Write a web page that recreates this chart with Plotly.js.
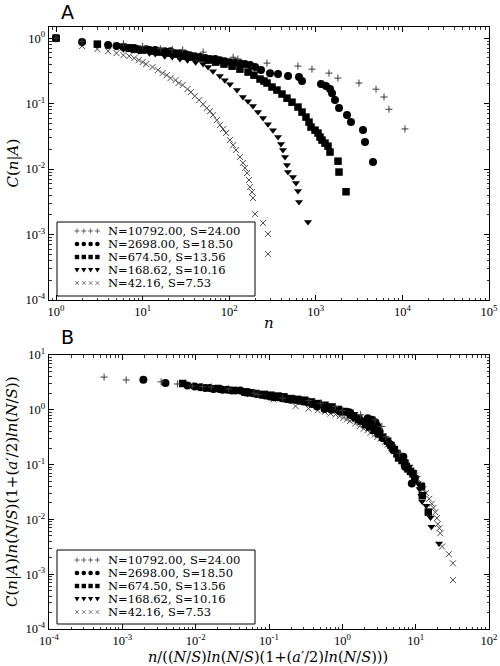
<!DOCTYPE html>
<html><head><meta charset="utf-8">
<script src="https://cdn.plot.ly/plotly-3.0.1.min.js"></script>
<style>html,body{margin:0;padding:0;background:#fff}</style>
</head><body><div id="chart" style="width:500px;height:666px"></div>
<script>
// ---- legend parameters (average N and S of each sample) ----
const N_vals = [10792.00, 2698.00, 674.50, 168.62, 42.16];
const S_vals = [24.00, 18.50, 13.56, 10.16, 7.53];
// a'
const aPrime = -0.116;

// ---- panel A: C(n|A) versus n ----
const n_plus = [1, 2, 6, 10, 16, 22, 29, 50, 111, 126, 273, 622, 903, 1420, 1800, 3150, 4960, 6130, 7000, 10700];
const c_plus = [1, 0.89, 0.82, 0.75, 0.69, 0.67, 0.66, 0.61, 0.51, 0.48, 0.415, 0.374, 0.336, 0.292, 0.245, 0.206, 0.166, 0.126, 0.082, 0.041];

const n_circ = [1, 2, 4, 5, 6, 7, 8, 9, 11, 12, 14, 16, 18, 21, 24, 27, 31, 35, 40, 46, 53, 60, 69, 78, 89, 102, 117, 133, 152, 174, 199, 233, 296, 366, 478, 640, 693, 1148, 1312, 1460, 1540, 1667, 1854, 2292, 2547, 3506, 3700, 4575];
const c_circ = [1, 0.869, 0.782, 0.755, 0.729, 0.704, 0.704, 0.679, 0.679, 0.656, 0.656, 0.633, 0.633, 0.633, 0.590, 0.590, 0.570, 0.550, 0.531, 0.513, 0.495, 0.478, 0.478, 0.461, 0.445, 0.430, 0.430, 0.415, 0.401, 0.387, 0.361, 0.325, 0.292, 0.282, 0.263, 0.254, 0.221, 0.1985, 0.185, 0.1665, 0.1445, 0.113, 0.0853, 0.0667, 0.0522, 0.0394, 0.0258, 0.0128];

const n_sq = [1, 3, 7, 8, 10, 13, 16, 20, 24, 30, 37, 46, 57, 70, 87, 108, 133, 165, 193, 227, 252, 273, 312, 356, 407, 465, 531, 623, 693, 770, 835, 880, 979, 1060, 1118, 1179, 1277, 1383, 1459, 1805, 1853, 2233];
const c_sq = [1, 0.810, 0.704, 0.679, 0.656, 0.633, 0.612, 0.590, 0.570, 0.531, 0.513, 0.495, 0.461, 0.430, 0.401, 0.373, 0.336, 0.303, 0.272, 0.237, 0.221, 0.206, 0.179, 0.161, 0.140, 0.121, 0.105, 0.0885, 0.0742, 0.0622, 0.0521, 0.0438, 0.0393, 0.0355, 0.0308, 0.0277, 0.0249, 0.0224, 0.0182, 0.0132, 0.0090, 0.0045];

const n_tri = [1, 2, 3, 4, 5, 6, 8, 9, 12, 14, 18, 22, 27, 33, 41, 50, 57, 65, 78, 89, 102, 123, 144, 165, 188, 215, 246, 280, 320, 366, 396, 418, 441, 465, 477, 545, 591, 623, 640, 813];
const c_tri = [1, 0.839, 0.782, 0.755, 0.729, 0.679, 0.656, 0.633, 0.590, 0.570, 0.531, 0.513, 0.478, 0.461, 0.430, 0.401, 0.361, 0.313, 0.263, 0.228, 0.198, 0.161, 0.126, 0.109, 0.0916, 0.0741, 0.0600, 0.0485, 0.0393, 0.0308, 0.0241, 0.0195, 0.0153, 0.0115, 0.0090, 0.00755, 0.00611, 0.00461, 0.00313, 0.00155];

const n_x = [1, 2, 3, 4, 5, 6, 7, 8, 9, 10, 11, 13, 15, 17, 19, 21, 24, 26, 29, 33, 36, 40, 45, 50, 55, 60, 65, 72, 78, 85, 92, 102, 111, 120, 133, 144, 152, 161, 169, 174, 183, 188, 199, 246, 280, 280];
const c_x = [1, 0.755, 0.679, 0.633, 0.590, 0.550, 0.531, 0.495, 0.461, 0.430, 0.401, 0.361, 0.325, 0.292, 0.272, 0.245, 0.228, 0.206, 0.1916, 0.1665, 0.1498, 0.130, 0.113, 0.098, 0.0853, 0.0768, 0.0667, 0.0559, 0.0470, 0.0408, 0.0355, 0.0277, 0.0232, 0.0195, 0.0153, 0.0124, 0.0104, 0.0087, 0.0068, 0.0053, 0.00445, 0.00361, 0.00206, 0.0015, 0.00102, 0.000504];

// ---- tick labels ----
const xTickValsA = [1, 10, 100, 1000, 10000, 100000];
const xTickTextA = ['10<sup>0</sup>', '10<sup>1</sup>', '10<sup>2</sup>', '10<sup>3</sup>', '10<sup>4</sup>', '10<sup>5</sup>'];
const yTickValsA = [0.0001, 0.001, 0.01, 0.1, 1];
const yTickTextA = ['10<sup>-4</sup>', '10<sup>-3</sup>', '10<sup>-2</sup>', '10<sup>-1</sup>', '10<sup>0</sup>'];
const xTickValsB = [0.0001, 0.001, 0.01, 0.1, 1, 10, 100];
const xTickTextB = ['10<sup>-4</sup>', '10<sup>-3</sup>', '10<sup>-2</sup>', '10<sup>-1</sup>', '10<sup>0</sup>', '10<sup>1</sup>', '10<sup>2</sup>'];
const yTickValsB = [0.0001, 0.001, 0.01, 0.1, 1, 10];
const yTickTextB = ['10<sup>-4</sup>', '10<sup>-3</sup>', '10<sup>-2</sup>', '10<sup>-1</sup>', '10<sup>0</sup>', '10<sup>1</sup>'];

// ---- page geometry ----
const W = 500, H = 666, M = {l: 49, r: 11, t: 27, b: 37};
const PW = W - M.l - M.r, PH = H - M.t - M.b;
const X = px => (px - M.l) / PW;
const Y = py => (H - M.b - py) / PH;

const seriesData = [
  {n: n_plus, c: c_plus},
  {n: n_circ, c: c_circ},
  {n: n_sq, c: c_sq},
  {n: n_tri, c: c_tri},
  {n: n_x, c: c_x}
];
const styles = [
  {symbol: 'cross-thin', size: 5, color: '#3a3a3a', line: {width: 1, color: '#3a3a3a'}},
  {symbol: 'circle', size: 8, color: '#000', line: {width: 0}},
  {symbol: 'square', size: 7.5, color: '#000', line: {width: 0}},
  {symbol: 'triangle-down', size: 7, color: '#000', line: {width: 0}},
  {symbol: 'x-thin', size: 6, color: '#4a4a4a', line: {width: 1, color: '#4a4a4a'}}
];
const drawOrder = [3, 4, 1, 2, 0];

function collapseFactor(i) {
  const r = N_vals[i] / S_vals[i];
  const L = Math.log(r);
  return {L: L * (1 + aPrime / 2 * L), R: r};
}

const traces = [];
drawOrder.forEach(i => {
  const d = seriesData[i];
  traces.push({type: 'scatter', mode: 'markers', x: d.n, y: d.c, xaxis: 'x', yaxis: 'y',
    marker: styles[i], showlegend: false, hoverinfo: 'skip'});
});
drawOrder.forEach(i => {
  const d = seriesData[i];
  const f = collapseFactor(i);
  traces.push({type: 'scatter', mode: 'markers',
    x: d.n.map(v => v / (f.R * f.L)), y: d.c.map(v => v * f.L),
    xaxis: 'x2', yaxis: 'y2', marker: styles[i], showlegend: false, hoverinfo: 'skip'});
});

const axBase = {
  type: 'log', showline: true, linecolor: '#000', linewidth: 1.3, mirror: 'allticks',
  ticks: 'inside', ticklen: 5, tickwidth: 1, tickcolor: '#000',
  showgrid: false, zeroline: false, tickmode: 'array',
  tickfont: {family: 'Liberation Serif, serif', size: 12.5, color: '#000'},
  minor: {ticks: 'inside', ticklen: 2.5, tickwidth: 0.8, tickcolor: '#000', tickmode: 'linear', dtick: 'D1', showgrid: false}
};

// ---- custom legends ----
const shapes = [], annotations = [];
const legendRowsA = [231, 244, 257, 270, 283];
const legendRowsB = [560, 573, 586, 599, 612];
function addLegend(top, bottom, rows) {
  shapes.push({type: 'rect', xref: 'paper', yref: 'paper', x0: X(57), x1: X(255), y0: Y(bottom), y1: Y(top),
    line: {color: '#000', width: 1}, fillcolor: '#fff', layer: 'above'});
  rows.forEach((py, i) => {
    for (let k = 0; k < 4; k++) {
      const cx = 77 + k * 6.8;
      const st = {xref: 'paper', yref: 'paper', layer: 'above'};
      if (i === 0) {
        shapes.push(Object.assign({type: 'line', x0: X(cx - 2.5), x1: X(cx + 2.5), y0: Y(py), y1: Y(py), line: {color: '#444', width: 0.8}}, st));
        shapes.push(Object.assign({type: 'line', x0: X(cx), x1: X(cx), y0: Y(py - 2.5), y1: Y(py + 2.5), line: {color: '#444', width: 0.8}}, st));
      } else if (i === 1) {
        shapes.push(Object.assign({type: 'circle', x0: X(cx - 2.3), x1: X(cx + 2.3), y0: Y(py + 2.3), y1: Y(py - 2.3), fillcolor: '#000', line: {width: 0}}, st));
      } else if (i === 2) {
        shapes.push(Object.assign({type: 'rect', x0: X(cx - 2.2), x1: X(cx + 2.2), y0: Y(py + 2.2), y1: Y(py - 2.2), fillcolor: '#000', line: {width: 0}}, st));
      } else if (i === 3) {
        shapes.push(Object.assign({type: 'path', path: `M${X(cx - 2.6)},${Y(py - 2)} L${X(cx + 2.6)},${Y(py - 2)} L${X(cx)},${Y(py + 2.6)} Z`, fillcolor: '#000', line: {width: 0}}, st));
      } else {
        shapes.push(Object.assign({type: 'line', x0: X(cx - 1.8), x1: X(cx + 1.8), y0: Y(py - 1.8), y1: Y(py + 1.8), line: {color: '#555', width: 0.8}}, st));
        shapes.push(Object.assign({type: 'line', x0: X(cx - 1.8), x1: X(cx + 1.8), y0: Y(py + 1.8), y1: Y(py - 1.8), line: {color: '#555', width: 0.8}}, st));
      }
    }
    annotations.push({xref: 'paper', yref: 'paper', x: X(106), y: Y(py), xanchor: 'left', yanchor: 'middle',
      height: 12,
      text: 'N=' + N_vals[i].toFixed(2) + ', S=' + S_vals[i].toFixed(2), showarrow: false,
      font: {family: 'DejaVu Serif, serif', size: 11.5, color: '#000'}});
  });
}
addLegend(222, 296, legendRowsA);
addLegend(550, 624, legendRowsB);

const mathFont = {family: 'DejaVu Serif, serif', size: 15, color: '#000'};
const mathFontB = {family: 'DejaVu Serif, serif', size: 14.5, color: '#000'};
annotations.push(
  {xref: 'paper', yref: 'paper', x: X(67), y: Y(11.5), text: 'A', showarrow: false, xanchor: 'center', yanchor: 'middle', font: {family: 'DejaVu Sans, sans-serif', size: 19, color: '#000'}},
  {xref: 'paper', yref: 'paper', x: X(67), y: Y(336.5), text: 'B', showarrow: false, xanchor: 'center', yanchor: 'middle', font: {family: 'DejaVu Sans, sans-serif', size: 19, color: '#000'}},
  {xref: 'paper', yref: 'paper', x: X(13), y: Y(163.5), textangle: -90, text: '<i>C</i>(<i>n</i>|<i>A</i>)', showarrow: false, xanchor: 'center', yanchor: 'middle', font: mathFont},
  {xref: 'paper', yref: 'paper', x: X(269), y: Y(323), text: '<i>n</i>', showarrow: false, xanchor: 'center', yanchor: 'middle', font: mathFont},
  {xref: 'paper', yref: 'paper', x: X(12), y: Y(492), textangle: -90, text: '<i>C</i>(<i>n</i>|<i>A</i>)<i>ln</i>(<i>N</i>/<i>S</i>)(1+(<i>a</i>′/2)<i>ln</i>(<i>N</i>/<i>S</i>))', showarrow: false, xanchor: 'center', yanchor: 'middle', font: mathFont},
  {xref: 'paper', yref: 'paper', x: X(268), y: Y(657), text: '<i>n</i>/((<i>N</i>/<i>S</i>)<i>ln</i>(<i>N</i>/<i>S</i>)(1+(<i>a</i>′/2)<i>ln</i>(<i>N</i>/<i>S</i>)))', showarrow: false, xanchor: 'center', yanchor: 'middle', font: mathFontB}
);

const layout = {
  width: W, height: H, margin: M, paper_bgcolor: '#fff', plot_bgcolor: '#fff', showlegend: false,
  xaxis: Object.assign({}, axBase, {domain: [0, 1], anchor: 'y', range: [-0.081, 5], tickvals: xTickValsA, ticktext: xTickTextA}),
  yaxis: Object.assign({}, axBase, {domain: [Y(300), Y(27)], anchor: 'x', range: [-4, 0.17], tickvals: yTickValsA, ticktext: yTickTextA}),
  xaxis2: Object.assign({}, axBase, {domain: [0, 1], anchor: 'y2', range: [-4, 2], tickvals: xTickValsB, ticktext: xTickTextB}),
  yaxis2: Object.assign({}, axBase, {domain: [0, Y(355)], anchor: 'x2', range: [-4, 1], tickvals: yTickValsB, ticktext: yTickTextB}),
  shapes: shapes, annotations: annotations
};
Plotly.newPlot('chart', traces, layout, {displayModeBar: false, staticPlot: true});
</script></body></html>
